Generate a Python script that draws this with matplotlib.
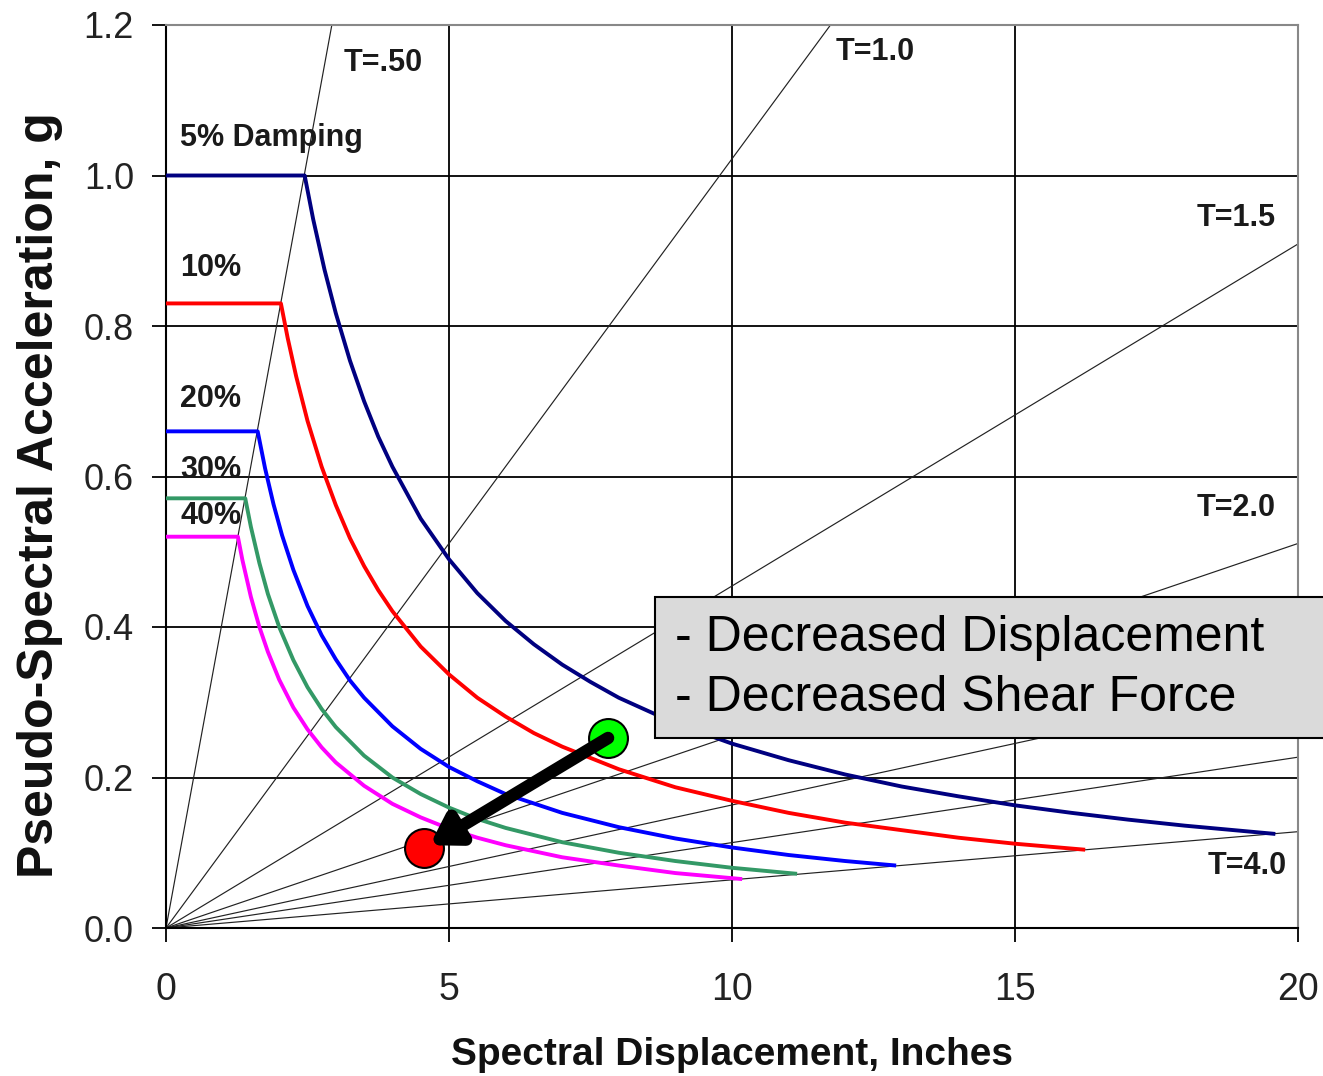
import matplotlib
matplotlib.use("Agg")
import matplotlib.pyplot as plt
from matplotlib.patches import Rectangle

plt.rcParams["font.family"] = ["Liberation Sans", "DejaVu Sans"]

# ---- data ----
# period lines: end point of each line from the origin (Sd, Sa)
PERIODS = ["T=.50", "T=1.0", "T=1.5", "T=2.0", "T=2.5", "T=3.0", "T=4.0"]
PERIOD_END_SD = [2.93, 11.74, 20.0, 20.0, 20.0, 20.0, 20.0]
PERIOD_END_SA = [1.20, 1.20, 0.909, 0.511, 0.327, 0.227, 0.128]

sd_5 = [0, 2.45, 2.6, 2.8, 3.0, 3.25, 3.5, 3.75, 4.0, 4.5, 5.0, 5.5, 6.0, 6.5, 7.0, 7.5, 8.0, 9.0,
        10, 11, 12, 13, 14, 15, 16, 17, 18, 19.6]
sa_5 = [1.0, 1.0, 0.942, 0.875, 0.817, 0.754, 0.700, 0.653, 0.613, 0.544, 0.490, 0.445, 0.408,
        0.377, 0.350, 0.327, 0.306, 0.272, 0.245, 0.223, 0.204, 0.188, 0.175, 0.163, 0.153,
        0.144, 0.136, 0.125]

sd_10 = [0, 2.03, 2.15, 2.3, 2.5, 2.75, 3.0, 3.25, 3.5, 3.75, 4.0, 4.5, 5.0, 5.5, 6.0, 6.5, 7.0,
         8.0, 9.0, 10, 11, 12, 13, 14, 15, 16.24]
sa_10 = [0.83, 0.83, 0.784, 0.733, 0.674, 0.613, 0.562, 0.518, 0.481, 0.449, 0.421, 0.374, 0.337,
         0.306, 0.281, 0.259, 0.241, 0.211, 0.187, 0.169, 0.153, 0.140, 0.130, 0.120, 0.112, 0.104]

sd_20 = [0, 1.62, 1.75, 1.9, 2.05, 2.25, 2.5, 2.75, 3.0, 3.25, 3.5, 4.0, 4.5, 5.0, 5.5, 6.0, 7.0,
         8.0, 9.0, 10, 11, 12, 12.9]
sa_20 = [0.66, 0.66, 0.611, 0.563, 0.522, 0.476, 0.428, 0.389, 0.357, 0.329, 0.306, 0.268, 0.238,
         0.214, 0.195, 0.178, 0.153, 0.134, 0.119, 0.107, 0.097, 0.089, 0.083]

sd_30 = [0, 1.40, 1.5, 1.65, 1.8, 2.0, 2.25, 2.5, 2.75, 3.0, 3.5, 4.0, 4.5, 5.0, 5.5, 6.0, 7.0,
         8.0, 9.0, 10, 11.15]
sa_30 = [0.571, 0.571, 0.533, 0.485, 0.444, 0.40, 0.356, 0.32, 0.291, 0.267, 0.229, 0.20, 0.178,
         0.16, 0.145, 0.133, 0.114, 0.10, 0.089, 0.08, 0.072]

sd_40 = [0, 1.27, 1.35, 1.5, 1.65, 1.8, 2.0, 2.25, 2.5, 2.75, 3.0, 3.5, 4.0, 4.5, 5.0, 5.5, 6.0,
         7.0, 8.0, 9.0, 10.18]
sa_40 = [0.52, 0.52, 0.489, 0.44, 0.40, 0.367, 0.33, 0.293, 0.264, 0.24, 0.22, 0.189, 0.165,
         0.147, 0.132, 0.12, 0.11, 0.094, 0.083, 0.073, 0.065]

curves = [(sd_5, sa_5, "#000080"), (sd_10, sa_10, "#FF0000"), (sd_20, sa_20, "#0000FF"),
          (sd_30, sa_30, "#339966"), (sd_40, sa_40, "#FF00FF")]

# performance points (before / after)
point_start = (7.81, 0.2525)
point_end = (4.56, 0.106)

fig = plt.figure(figsize=(13.23, 10.76), dpi=100)
ax = fig.add_axes([166 / 1323, 1 - 928 / 1076, (1298 - 166) / 1323, (928 - 25) / 1076])
ax.set_xlim(0, 20)
ax.set_ylim(0, 1.2)
ax.set_xticks([0, 5, 10, 15, 20])
ax.set_yticks([0.0, 0.2, 0.4, 0.6, 0.8, 1.0, 1.2])
ax.set_yticklabels(["0.0", "0.2", "0.4", "0.6", "0.8", "1.0", "1.2"])
ax.grid(True, color="black", lw=1.3, zorder=1)
ax.set_axisbelow(True)
ax.tick_params(axis="both", direction="out", length=10, width=1.3, color="black")
ax.tick_params(axis="x", labelsize=27, pad=22, labelcolor="#222222")
ax.tick_params(axis="y", labelsize=26, pad=13, labelcolor="#222222")
for side in ["left", "bottom"]:
    ax.spines[side].set_linewidth(1.5)
for side in ["top", "right"]:
    ax.spines[side].set_color("#888888")
    ax.spines[side].set_linewidth(1.5)

# period lines
for sd_e, sa_e in zip(PERIOD_END_SD, PERIOD_END_SA):
    ax.plot([0, sd_e], [0, sa_e], color="#222222", lw=0.85, zorder=2)

# damping curves
for sd, sa, col in curves:
    ax.plot(sd, sa, color=col, lw=2.8, zorder=3, solid_capstyle="butt", solid_joinstyle="round")

# labels
bold = dict(fontweight="bold", fontsize=22, color="#1a1a1a")
ax.text(0.25, 1.05, "5% Damping", va="center", **bold)
ax.text(0.25, 0.877, "10%", va="center", **bold)
ax.text(0.25, 0.703, "20%", va="center", **bold)
ax.text(0.25, 0.609, "30%", va="center", **bold)
ax.text(0.25, 0.547, "40%", va="center", **bold)

tfont = dict(fontweight="bold", fontsize=22, color="#1a1a1a", ha="center", va="center",
             family=["Liberation Sans Narrow", "Liberation Sans", "DejaVu Sans"])
ax.text(3.83, 1.15, PERIODS[0], **tfont)
ax.text(12.53, 1.164, PERIODS[1], **tfont)
ax.text(18.9, 0.943, PERIODS[2], **tfont)
ax.text(18.9, 0.558, PERIODS[3], **tfont)
ax.text(19.1, 0.082, PERIODS[6], **tfont)

# points and arrow
ax.plot(*point_start, "o", ms=28, mfc="#00FF00", mec="black", mew=1.5, zorder=5, clip_on=False)
ax.plot(*point_end, "o", ms=28, mfc="#FF0000", mec="black", mew=1.5, zorder=5, clip_on=False)
ax.annotate("", xy=(point_end[0] + 0.1, point_end[1] + 0.004), xytext=point_start,
            arrowprops=dict(arrowstyle="-|>,head_length=1.6,head_width=1.0", lw=9,
                            color="black", shrinkA=0, shrinkB=0), zorder=6)

# text box
ax.add_patch(Rectangle((8.64, 0.2525), 12.0, 0.1875, facecolor="#DADADA", edgecolor="black",
                       lw=1.5, zorder=7, clip_on=False))
ax.text(8.99, 0.385, "- Decreased Displacement", fontsize=36, va="center", zorder=8)
ax.text(8.99, 0.305, "- Decreased Shear Force", fontsize=36, va="center", zorder=8)

fig.text(40 / 1323, 1 - 495 / 1076, "Pseudo-Spectral Acceleration, g", rotation=90,
         fontsize=36, fontweight="bold", ha="center", va="center", color="#111111")
fig.text(732 / 1323, 3 / 1076, "Spectral Displacement, Inches", fontsize=28,
         fontweight="bold", ha="center", va="bottom", color="#111111")

fig.savefig("out.png", dpi=100)
